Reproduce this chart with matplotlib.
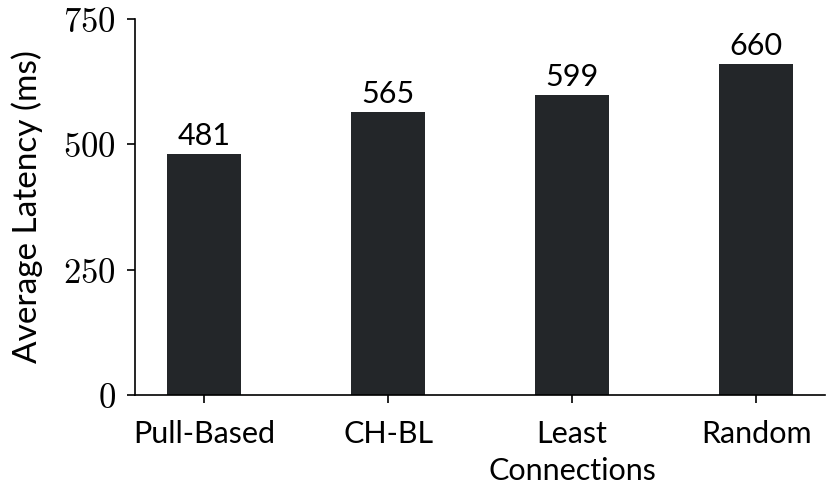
import matplotlib
matplotlib.use("Agg")
import matplotlib.pyplot as plt

categories = ["Pull-Based", "CH-BL", "Least\nConnections", "Random"]
latency = [481, 565, 599, 660]
yticks = [0, 250, 500, 750]

plt.rcParams['font.family'] = ['Lato', 'DejaVu Sans']
plt.rcParams['mathtext.fontset'] = 'cm'

fig = plt.figure(figsize=(8.31, 4.96), dpi=100)
ax = fig.add_axes([0.1625, 0.2036, 0.8305, 0.7581])

x = list(range(len(categories)))
bars = ax.bar(x, latency, width=0.4, color='#232629')
for b, v in zip(bars, latency):
    ax.text(b.get_x() + b.get_width() / 2, v + 8, str(v),
            ha='center', va='bottom', fontsize=22)

ax.set_xlim(-0.375, 3.375)
ax.set_ylim(0, 750)
ax.set_xticks(x)
ax.set_xticklabels(categories, fontsize=22, linespacing=1.4)
ax.set_yticks(yticks)
ax.set_yticklabels(['$%d$' % t for t in yticks], fontsize=25)
ax.set_ylabel('Average Latency (ms)', fontsize=24, labelpad=14)

for s in ['top', 'right']:
    ax.spines[s].set_visible(False)
for s in ['left', 'bottom']:
    ax.spines[s].set_linewidth(1.2)
ax.tick_params(axis='both', length=6, width=1.2)
ax.tick_params(axis='x', pad=12)
ax.tick_params(axis='y', pad=8)

fig.savefig('out.png', dpi=100)
